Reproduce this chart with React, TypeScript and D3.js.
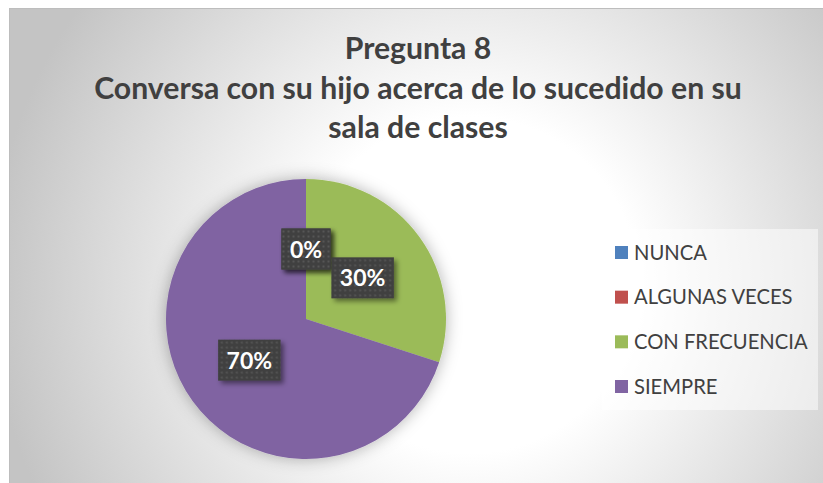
import React from 'react';
import * as d3 from 'd3';

const categories = ['NUNCA', 'ALGUNAS VECES', 'CON FRECUENCIA', 'SIEMPRE'];
const values = [0, 0, 30, 70];
const colors = ['#4F81BD', '#C0504D', '#9BBB59', '#8064A2'];
const titleLines = ['Pregunta 8', 'Conversa con su hijo acerca de lo sucedido en su', 'sala de clases'];

const W = 823;
const H = 483;
const cx = 306;
const cy = 319;
const R = 140;

function measure(text: string, font: string): number {
  if (typeof document === 'undefined') return text.length * 12;
  const c = document.createElement('canvas');
  const ctx = c.getContext('2d');
  if (!ctx) return text.length * 12;
  ctx.font = font;
  return ctx.measureText(text).width;
}

export default function App() {
  const total = d3.sum(values);
  const data = categories.map((c, i) => ({ cat: c, value: values[i], color: colors[i] }));
  const pie = d3.pie<any>().value((d: any) => d.value).sort(null).startAngle(0).endAngle(2 * Math.PI);
  const arcs = pie(data);
  const arcGen = d3.arc<any>().innerRadius(0).outerRadius(R);
  const fmt = d3.format('.0%');
  const labelFont = 'bold 23px Lato';

  const legendY = d3.scalePoint<string>().domain(categories).range([252.5, 386.5]);

  return (
    <svg width={W} height={H} style={{ position: 'absolute', left: 0, top: 0, display: 'block' }}>
      <defs>
        <radialGradient id="bg" gradientUnits="userSpaceOnUse" cx={470} cy={285} r={480}>
          <stop offset="0" stopColor="#ffffff" />
          <stop offset="0.35" stopColor="#ffffff" />
          <stop offset="1" stopColor="#c4c4c4" />
        </radialGradient>
        <filter id="pieShadow" x="-30%" y="-30%" width="160%" height="160%">
          <feDropShadow dx="0" dy="0" stdDeviation="8" floodColor="#000" floodOpacity="0.3" />
        </filter>
        <filter id="boxShadow" x="-30%" y="-30%" width="170%" height="170%">
          <feDropShadow dx="3" dy="3" stdDeviation="2.5" floodColor="#000" floodOpacity="0.45" />
        </filter>
        <pattern id="dots" patternUnits="userSpaceOnUse" width="5" height="5">
          <rect x="0" y="0" width="5" height="5" fill="#3f3f3f" />
          <rect x="1.5" y="1.5" width="2" height="2" fill="#575757" />
        </pattern>
      </defs>
      <rect x={0} y={0} width={W} height={H} fill="#ffffff" />
      <rect x={9.5} y={8.5} width={840} height={500} fill="url(#bg)" stroke="#bdbdbd" strokeWidth={1} />

      {titleLines.map((t, i) => (
        <text
          key={i}
          x={418}
          y={59 + i * 39.5}
          textAnchor="middle"
          fontFamily="Lato"
          fontWeight="bold"
          fontSize={30.2}
          fill="#404040"
        >
          {t}
        </text>
      ))}

      <g transform={`translate(${cx},${cy})`}>
        <g filter="url(#pieShadow)">
          {arcs.map((a, i) => (
            <path key={i} d={arcGen(a) || ''} fill={a.data.color} />
          ))}
        </g>
        {arcs.map((a, i) => {
          const [lx, ly] = arcGen.centroid(a);
          const label = fmt(a.data.value / total);
          const tw = measure(label, labelFont);
          const bw = tw + 17;
          const bh = 41;
          return (
            <g key={'l' + i} transform={`translate(${lx},${ly})`}>
              <rect x={-bw / 2} y={-bh / 2} width={bw} height={bh} fill="url(#dots)" filter="url(#boxShadow)" />
              <text
                x={0}
                y={8.5}
                textAnchor="middle"
                fontFamily="Lato"
                fontWeight="bold"
                fontSize={23}
                fill="#ffffff"
              >
                {label}
              </text>
            </g>
          );
        })}
      </g>

      <g>
        <rect x={602} y={229} width={216} height={181} fill="#ffffff" fillOpacity={0.5} />
        {categories.map((c, i) => {
          const y = legendY(c) as number;
          return (
            <g key={c}>
              <rect x={615} y={y - 6.5} width={13} height={13} fill={colors[i]} />
              <text x={634} y={y + 7} fontFamily="Lato" fontSize={20.2} fill="#404040">
                {c}
              </text>
            </g>
          );
        })}
      </g>
    </svg>
  );
}
